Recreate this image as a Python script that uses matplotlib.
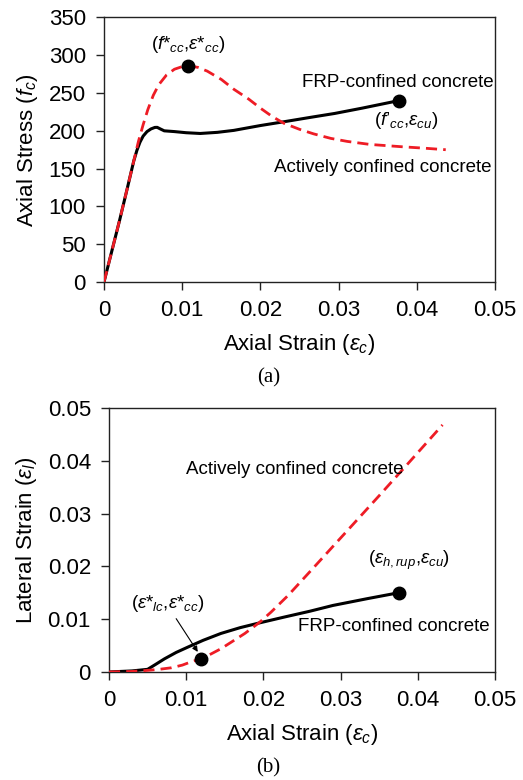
import matplotlib.pyplot as plt

plt.rcParams["font.family"] = ["Liberation Sans", "DejaVu Sans"]
plt.rcParams["mathtext.fontset"] = "custom"
plt.rcParams["mathtext.rm"] = "Liberation Sans"
plt.rcParams["mathtext.it"] = "Liberation Sans:italic"

# (a) axial stress vs axial strain
frp_a_x = [0, 0.002, 0.003, 0.0038, 0.0042, 0.0046, 0.005, 0.0055, 0.006, 0.0065,
           0.0068, 0.0072, 0.0077, 0.009, 0.0105, 0.0123, 0.0145, 0.0166, 0.020,
           0.023, 0.0265, 0.0295, 0.033, 0.0377]
frp_a_y = [0, 82, 125, 160, 174, 185, 193, 199, 202.5, 204.5, 204.6, 202.5, 200, 199,
           197.5, 196.5, 198, 200.6, 207, 212, 218, 223, 230, 240]

act_a_x = [0, 0.002, 0.003, 0.0038, 0.0044, 0.005, 0.0056, 0.0063, 0.007, 0.008,
           0.009, 0.010, 0.0108, 0.012, 0.0132, 0.015, 0.0166, 0.0185, 0.020, 0.0215,
           0.023, 0.025, 0.0268, 0.029, 0.0311, 0.034, 0.038, 0.041, 0.0437]
act_a_y = [0, 82, 125, 160, 186, 208, 228, 247, 261, 274, 281.5, 285, 286, 284, 279,
           268, 255, 242, 230, 219, 210, 202, 196, 190, 186, 182, 179, 177, 175]

# (b) lateral strain vs axial strain
frp_b_x = [0, 0.003, 0.005, 0.006, 0.0072, 0.0087, 0.0102, 0.0122, 0.0145, 0.017,
           0.0195, 0.0227, 0.026, 0.029, 0.0335, 0.0375]
frp_b_y = [0, 0.0002, 0.0005, 0.0014, 0.0025, 0.0037, 0.0047, 0.0060, 0.0073, 0.0084,
           0.0093, 0.0104, 0.0115, 0.0126, 0.0139, 0.0150]

act_b_x = [0, 0.003, 0.005, 0.0065, 0.0081, 0.0095, 0.0106, 0.0119, 0.0132, 0.0145,
           0.016, 0.0176, 0.0195, 0.021, 0.0232, 0.0264, 0.0307, 0.035, 0.0385, 0.0432]
act_b_y = [0, 0.0001, 0.0003, 0.0005, 0.0008, 0.0013, 0.0019, 0.0025, 0.0034, 0.0044,
           0.0058, 0.0073, 0.0094, 0.01135, 0.0145, 0.0196, 0.0265, 0.0334, 0.0391, 0.0468]

peak_a = (0.0108, 286)
ult_a = (0.0377, 240)
peak_b = (0.0119, 0.0025)
ult_b = (0.0375, 0.0150)

red = "#ee1c25"
fs = 16
fs_note = 13.5

fig = plt.figure(figsize=(5.23, 7.8), dpi=100)
ax1 = fig.add_axes([0.1989, 0.6385, 0.7476, 0.3391])
ax2 = fig.add_axes([0.2084, 0.1385, 0.7381, 0.3384])

ax1.plot(frp_a_x, frp_a_y, color="black", lw=2.2, solid_joinstyle="round", zorder=2)
ax1.plot(act_a_x, act_a_y, color=red, lw=2.0, ls=(0, (4, 2.2)), zorder=3)
ax1.plot(*peak_a, "o", color="black", ms=9, zorder=4)
ax1.plot(*ult_a, "o", color="black", ms=9, zorder=4)

ax1.text(0.0108, 314, r"$(f{*}_{cc}{,}\varepsilon{*}_{cc})$", fontsize=fs_note,
         ha="center", va="center")
ax1.text(0.0376, 264, "FRP-confined concrete", fontsize=fs_note, ha="center", va="center")
ax1.text(0.0386, 214, r"$(f’_{cc}{,}\varepsilon_{cu})$", fontsize=fs_note,
         ha="center", va="center")
ax1.text(0.0356, 151.5, "Actively confined concrete", fontsize=fs_note, ha="center", va="center")

ax1.set_xlim(0, 0.05)
ax1.set_ylim(0, 350)
ax1.set_xticks([0, 0.01, 0.02, 0.03, 0.04, 0.05])
ax1.set_xticklabels(["0", "0.01", "0.02", "0.03", "0.04", "0.05"])
ax1.set_yticks(range(0, 351, 50))
ax1.set_xlabel(r"Axial Strain ($\varepsilon_c$)", fontsize=fs, labelpad=8)
ax1.set_ylabel(r"Axial Stress ($f_c$)", fontsize=fs, labelpad=6)

ax2.plot(frp_b_x, frp_b_y, color="black", lw=2.2, zorder=2)
ax2.plot(act_b_x, act_b_y, color=red, lw=2.0, ls=(0, (4, 2.2)), zorder=3)
ax2.plot(*peak_b, "o", color="black", ms=9, zorder=4)
ax2.plot(*ult_b, "o", color="black", ms=9, zorder=4)

ax2.annotate("", xy=(0.0115, 0.0038), xytext=(0.0087, 0.0101),
             arrowprops=dict(arrowstyle="-|>", color="black", lw=0.8,
                             shrinkA=0, shrinkB=0, mutation_scale=8))
ax2.text(0.0076, 0.01295, r"$(\varepsilon{*}_{lc}{,}\varepsilon{*}_{cc})$", fontsize=fs_note,
         ha="center", va="center")
ax2.text(0.0388, 0.0212, r"$(\varepsilon_{h,rup}{,}\varepsilon_{cu})$", fontsize=fs_note,
         ha="center", va="center")
ax2.text(0.0369, 0.00866, "FRP-confined concrete", fontsize=fs_note, ha="center", va="center")
ax2.text(0.0241, 0.0383, "Actively confined concrete", fontsize=fs_note, ha="center", va="center")

ax2.set_xlim(0, 0.05)
ax2.set_ylim(0, 0.05)
ax2.set_xticks([0, 0.01, 0.02, 0.03, 0.04, 0.05])
ax2.set_xticklabels(["0", "0.01", "0.02", "0.03", "0.04", "0.05"])
ax2.set_yticks([0, 0.01, 0.02, 0.03, 0.04, 0.05])
ax2.set_yticklabels(["0", "0.01", "0.02", "0.03", "0.04", "0.05"])
ax2.set_xlabel(r"Axial Strain ($\varepsilon_c$)", fontsize=fs, labelpad=8)
ax2.set_ylabel(r"Lateral Strain ($\varepsilon_l$)", fontsize=fs, labelpad=6)

for ax in (ax1, ax2):
    for s in ax.spines.values():
        s.set_color("#222222")
        s.set_linewidth(1.0)
    ax.tick_params(direction="out", length=6, width=1.0, color="#222222",
                   labelsize=fs, pad=7)

fig.text(0.513, 0.515, "(a)", fontsize=15, family="Liberation Serif", ha="center", va="center")
fig.text(0.513, 0.0154, "(b)", fontsize=15, family="Liberation Serif", ha="center", va="center")

fig.savefig("out.png", dpi=100)
